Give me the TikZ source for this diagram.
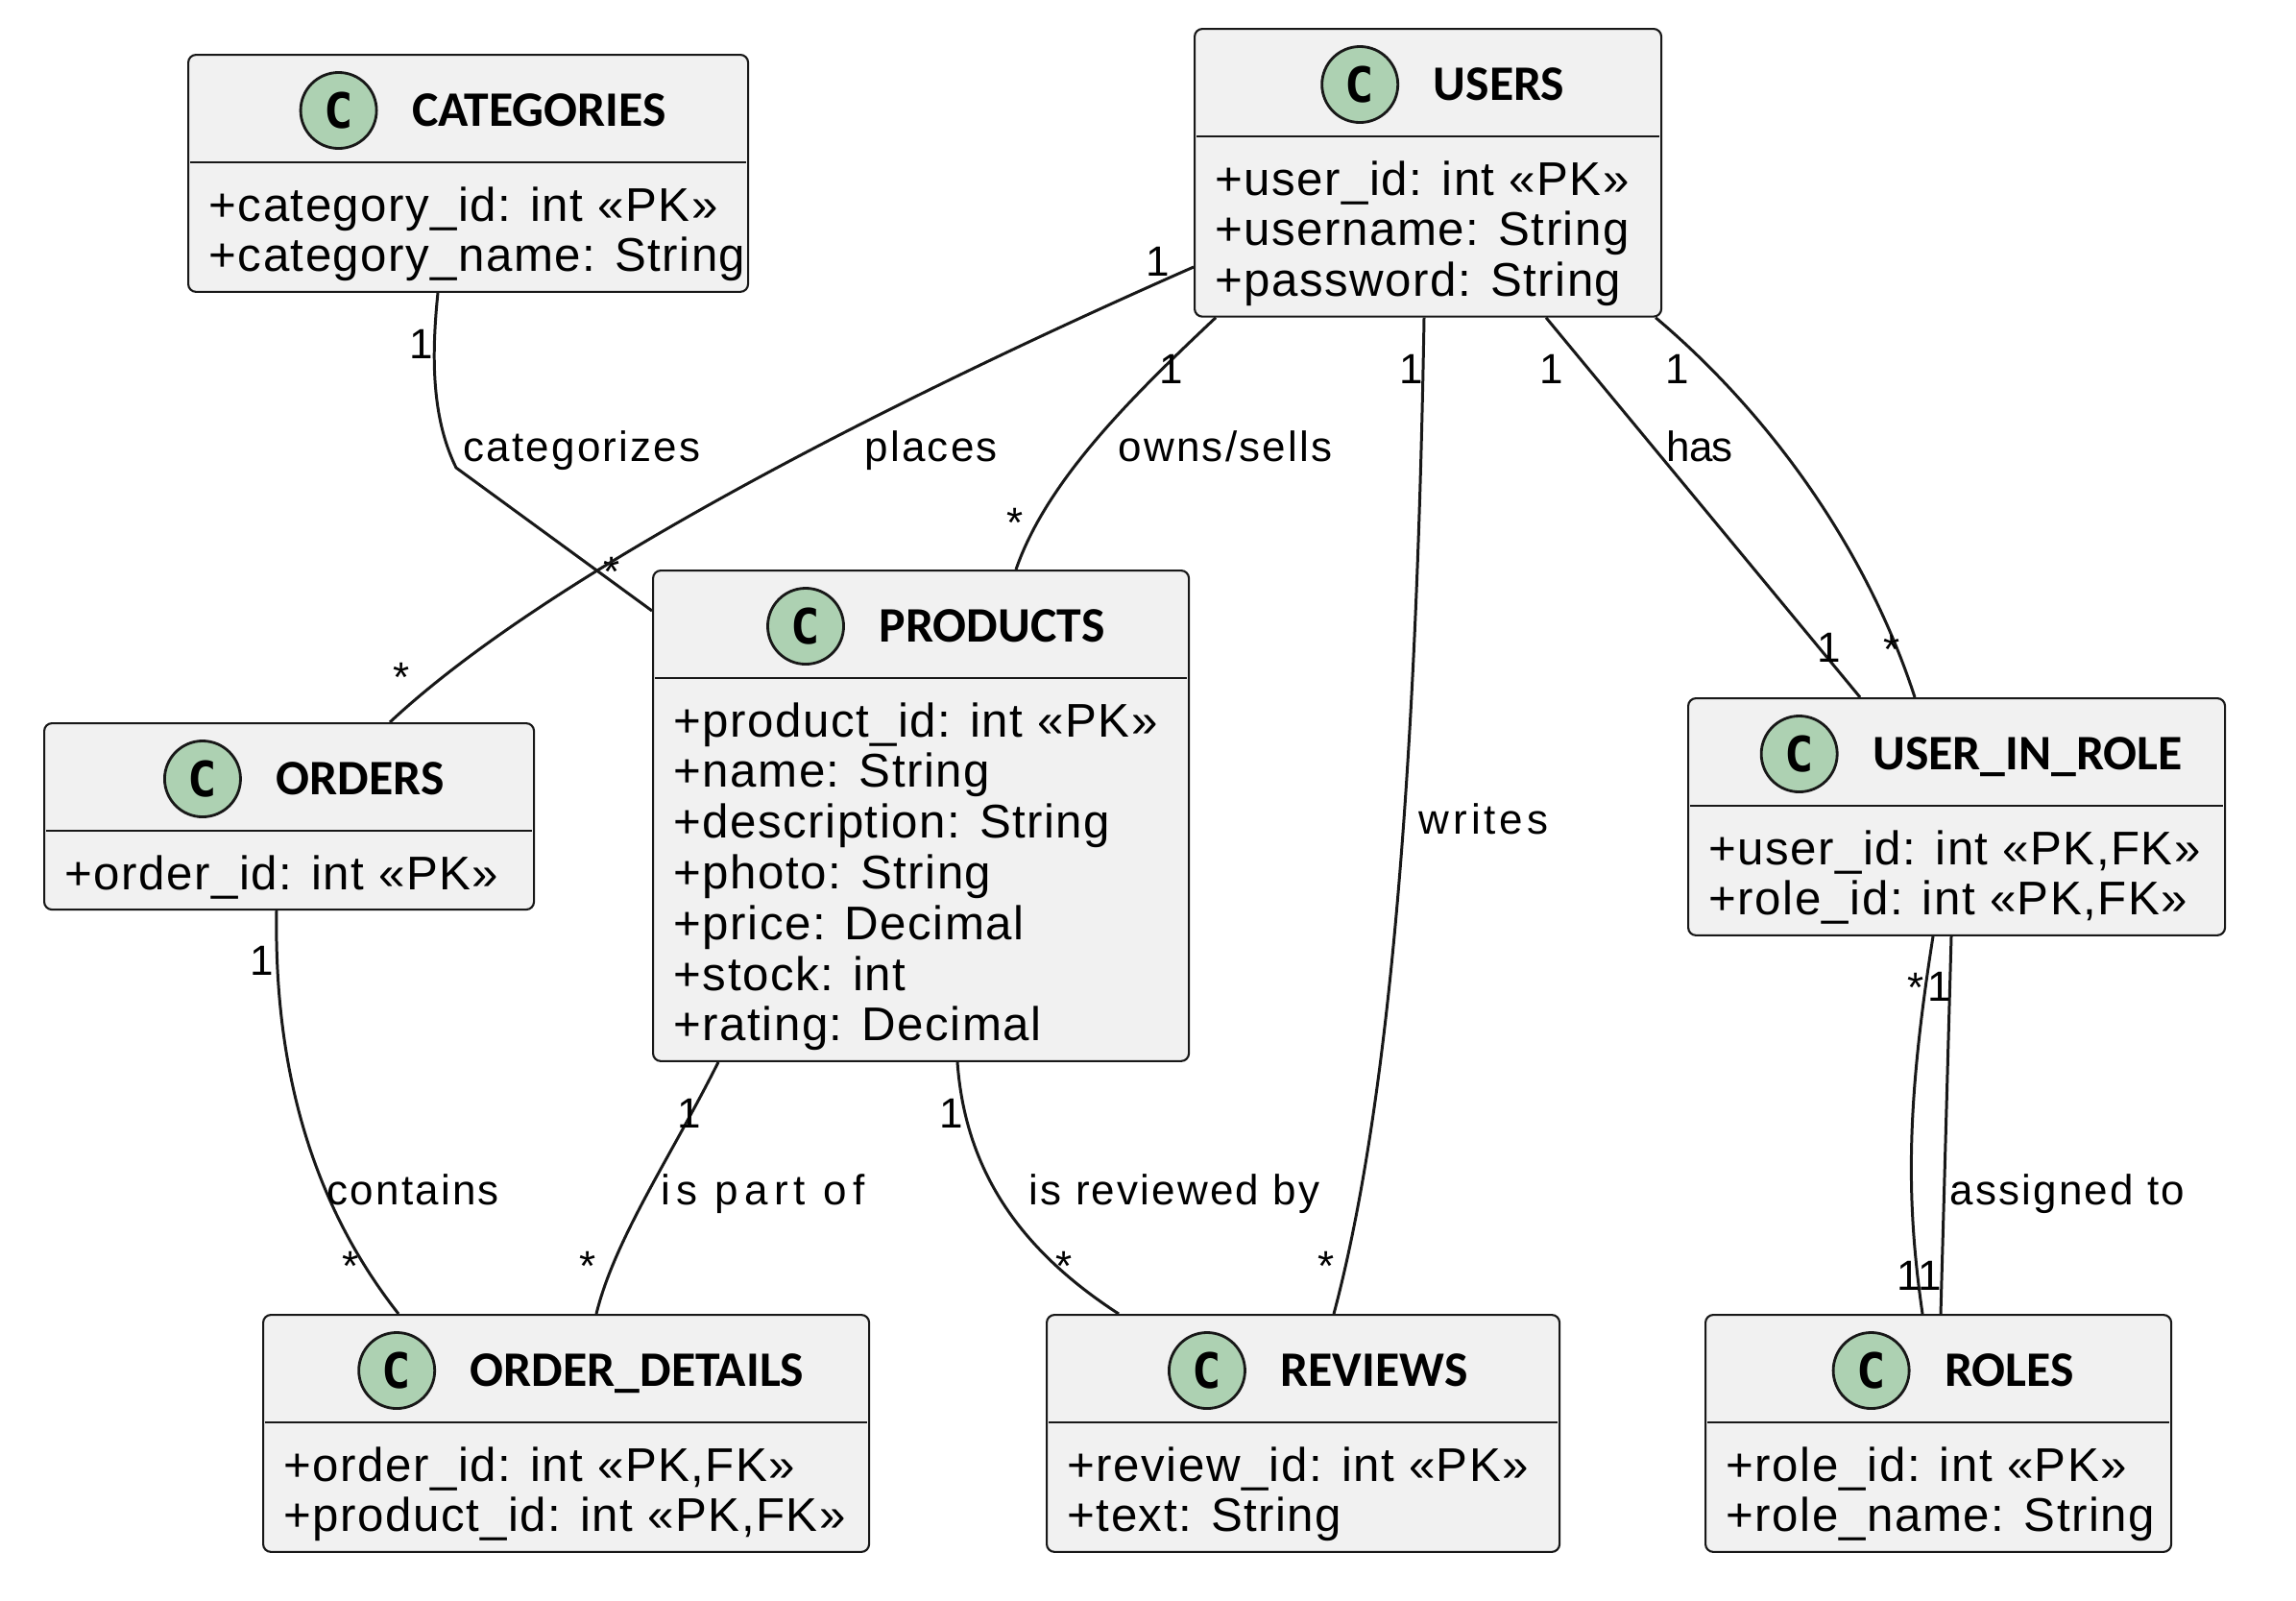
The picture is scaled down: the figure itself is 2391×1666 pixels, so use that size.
\documentclass[tikz,border=0pt]{standalone}
\usepackage{fontspec}
\setmainfont{Liberation Sans}
\newfontfamily\attrfont[LetterSpace=3]{Liberation Sans}
\newfontfamily\lblfont[LetterSpace=5]{Liberation Sans}
\newfontfamily\titlefont{Carlito}
\newfontfamily\spotfont{DejaVu Sans Mono}
\usepackage{tikz}
\usetikzlibrary{calc, positioning}

\definecolor{boxfill}{HTML}{F1F1F1}
\definecolor{boxline}{HTML}{181818}
\definecolor{spotfill}{HTML}{ADD1B2}

% name, left, top, width, number of attributes, title, attributes
\newcommand{\umlclass}[7]{%
  \node[classbox, minimum width={#4*0.01cm}, minimum height={(194+(#5-1)*52.8)*0.01cm}] (#1) at (#2,#3) {};
  \draw[sepline] ($(#1.north west)+(3,113)$) -- ($(#1.north east)+(-3,113)$);
  \node[classtitle] (#1-t) at ($(#1.north)+(74,59)$) {#6};
  \node[spot, left=0.35cm of #1-t] (#1-c) {C};
  \foreach \attrline [count=\i] in {#7}
    \node[attr] (#1-a\i) at ($(#1.north west)+(22,{174+(\i-1)*52.8})$) {\attrline};
}

\begin{document}
\begin{tikzpicture}[x=0.01cm, y=-0.01cm,
    classbox/.style={draw=boxline, fill=boxfill, line width=0.6pt, rounded corners=2.3pt, anchor=north west, inner sep=0pt},
    sepline/.style={draw=boxline, line width=0.6pt},
    classtitle/.style={font=\titlefont\bfseries\fontsize{14.7}{17}\selectfont, inner sep=0pt, text height=9.5pt, text depth=0pt},
    spot/.style={circle, draw=boxline, fill=spotfill, line width=0.8pt, minimum size=0.79cm, inner sep=0pt, font=\spotfont\bfseries\fontsize{14.4}{16}\selectfont},
    attr/.style={font=\attrfont\fontsize{14}{16}\selectfont, inner sep=0pt, anchor=base west},
    assoc/.style={draw=boxline, line width=0.85pt},
    lbl/.style={font=\lblfont\fontsize{12.5}{14}\selectfont, inner sep=0pt, anchor=base west},
    mult/.style={lbl, anchor=base}]

  \useasboundingbox (0,0) rectangle (2391,1666);

  \umlclass{categories}{195}{56}{583}{2}{CATEGORIES}{{+category\_id: int «PK»},{+category\_name: String}}
  \umlclass{users}{1243}{29}{486}{3}{USERS}{{+user\_id: int «PK»},{+username: String},{+password: String}}
  \umlclass{products}{679}{593}{558}{7}{PRODUCTS}{{+product\_id: int «PK»},{+name: String},{+description: String},{+photo: String},{+price: Decimal},{+stock: int},{+rating: Decimal}}
  \umlclass{orders}{45}{752}{510}{1}{ORDERS}{{+order\_id: int «PK»}}
  \umlclass{userinrole}{1757}{726}{559}{2}{USER\_IN\_ROLE}{{+user\_id: int «PK,FK»},{+role\_id: int «PK,FK»}}
  \umlclass{orderdetails}{273}{1368}{631}{2}{ORDER\_DETAILS}{{+order\_id: int «PK,FK»},{+product\_id: int «PK,FK»}}
  \umlclass{reviews}{1089}{1368}{534}{2}{REVIEWS}{{+review\_id: int «PK»},{+text: String}}
  \umlclass{roles}{1775}{1368}{485}{2}{ROLES}{{+role\_id: int «PK»},{+role\_name: String}}

  \coordinate (catbend) at (475,487);
  \draw[assoc] ($(categories.south west)+(261,0)$) .. controls +(-8,77) and +(-23,-47) .. (catbend) -- ($(products.north west)+(0,43)$);
  \node[mult] (cat-m1) at (439,373) {1};
  \node[lbl] (cat-l) at (482,480) {categorizes};
  \node[mult] (cat-m2) at (637,610) {*};

  \draw[assoc] ($(users.north west)+(0,249)$) .. controls +(-243,107) and +(184,-172) .. ($(orders.north west)+(361,0)$);
  \node[mult] (pl-m1) at (1206,287) {1};
  \node[lbl] (pl-l) at (900,480) {places};
  \node[mult] (pl-m2) at (418,720) {*};

  \draw[assoc] ($(users.south west)+(23,0)$) .. controls +(-86,81) and +(32,-93) .. ($(products.north west)+(379,0)$);
  \node[mult] (ow-m1) at (1220,399) {1};
  \node[lbl] (ow-l) at (1164,480) {owns/sells};
  \node[mult] (ow-m2) at (1057,559) {*};

  \draw[assoc] ($(users.south west)+(240,0)$) .. controls +(-8,471) and +(58,-218) .. ($(reviews.north west)+(300,0)$);
  \node[mult] (wr-m1) at (1470,399) {1};
  \node[lbl] (wr-l) at (1477,868) {\addfontfeatures{LetterSpace=9}writes};
  \node[mult] (wr-m2) at (1381,1333) {*};

  \draw[assoc] ($(users.south west)+(367,0)$) -- ($(userinrole.north west)+(180,0)$);
  \node[mult] (ha-m1) at (1616,399) {1};
  \node[lbl] (ha-l) at (1735,480) {\addfontfeatures{LetterSpace=-2}has};
  \node[mult] (ha-m2) at (1905,689) {1};

  \draw[assoc] ($(users.south east)+(-7,0)$) .. controls +(108,91) and +(-54,-166) .. ($(userinrole.north west)+(237,0)$);
  \node[mult] (ur-m1) at (1747,399) {1};
  \node[mult] (ur-m2) at (1970,691) {*};

  \draw[assoc] ($(orders.south west)+(243,0)$) .. controls +(-3,174) and +(-85,-108) .. ($(orderdetails.north west)+(142,0)$);
  \node[mult] (co-m1) at (273,1015) {1};
  \node[lbl] (co-l) at (340,1254) {contains};
  \node[mult] (co-m2) at (365,1333) {*};

  \draw[assoc] ($(products.south west)+(69,0)$) .. controls +(-48,96) and +(19,-78) .. ($(orderdetails.north west)+(348,0)$);
  \node[mult] (pa-m1) at (718,1174) {1};
  \node[lbl] (pa-l) at (688,1254) {\addfontfeatures{LetterSpace=14}is part of};
  \node[mult] (pa-m2) at (612,1333) {*};

  \draw[assoc] ($(products.south west)+(318,0)$) .. controls +(8,111) and +(-105,-68) .. ($(reviews.north west)+(76,0)$);
  \node[mult] (rv-m1) at (991,1174) {1};
  \node[lbl] (rv-l) at (1071,1254) {is reviewed by};
  \node[mult] (rv-m2) at (1108,1333) {*};

  \draw[assoc] ($(userinrole.south west)+(256,0)$) .. controls +(-28,177) and +(-17,-118) .. ($(roles.north west)+(227,0)$);
  \draw[assoc] ($(userinrole.south west)+(275,0)$) -- ($(roles.north west)+(246,0)$);
  \node[mult] (as-m1) at (1995,1043) {*};
  \node[mult] (as-m2) at (2020,1042) {1};
  \node[lbl] (as-l) at (2030,1254) {assigned to};
  \node[mult] (as-m3) at (1988,1343) {1};
  \node[mult] (as-m4) at (2010,1343) {1};
\end{tikzpicture}
\end{document}
